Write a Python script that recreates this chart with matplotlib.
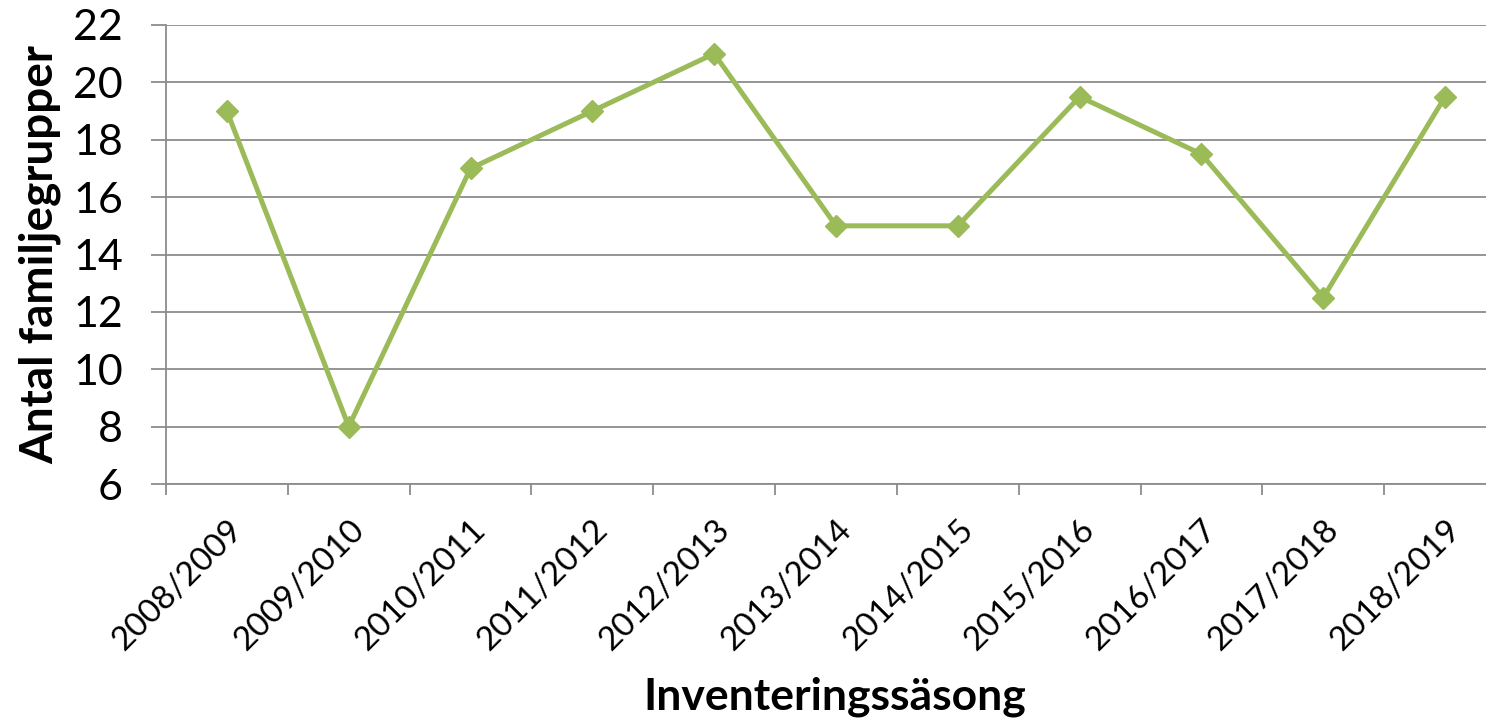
import matplotlib
matplotlib.use("Agg")
import matplotlib.pyplot as plt
import numpy as np

seasons = ["2008/2009", "2009/2010", "2010/2011", "2011/2012", "2012/2013",
           "2013/2014", "2014/2015", "2015/2016", "2016/2017", "2017/2018", "2018/2019"]
values = [19, 8, 17, 19, 21, 15, 15, 19.5, 17.5, 12.5, 19.5]
yticks = [6, 8, 10, 12, 14, 16, 18, 20, 22]

plt.rcParams['font.family'] = ['Lato', 'DejaVu Sans']

W, H = 1486, 721
fig = plt.figure(figsize=(W/100, H/100), dpi=100)
left, right, top, bottom = 166, 1506, 25, 484
ax = fig.add_axes([left/W, 1 - bottom/H, (right-left)/W, (bottom-top)/H])

x = np.arange(len(seasons))
ax.plot(x, values, color='#9BBB59', lw=3.6, marker='D', markersize=11,
        markerfacecolor='#9BBB59', markeredgecolor='#9BBB59', clip_on=False, zorder=3)

ax.set_xlim(-0.5, len(seasons) - 0.5)
ax.set_ylim(6, 22)
ax.set_yticks(yticks)
ax.set_yticklabels([str(v) for v in yticks], fontsize=31)
ax.grid(axis='y', color='#8c8c8c', lw=1.3)
ax.set_axisbelow(True)

ax.set_xticks(x)
ax.set_xticklabels(seasons, rotation=45, ha='right', rotation_mode='anchor', fontsize=24)
ax.set_xticks(np.arange(-0.5, len(seasons)), minor=True)
ax.tick_params(axis='x', which='major', length=0, pad=22)
ax.tick_params(axis='x', which='minor', length=8, width=1.3, color='#8c8c8c')
ax.tick_params(axis='y', length=11, width=1.3, color='#8c8c8c', pad=20)

for s in ['top', 'right']:
    ax.spines[s].set_visible(False)
for s in ['left', 'bottom']:
    ax.spines[s].set_color('#8c8c8c')
    ax.spines[s].set_linewidth(1.3)

fig.text(40/W, 1 - 255/H, 'Antal familjegrupper', rotation=90, ha='center', va='center',
         fontsize=33, fontweight='bold')
fig.text(835/W, 1 - 697/H, 'Inventeringssäsong', ha='center', va='center',
         fontsize=32, fontweight='bold')

fig.savefig('out.png', dpi=100)
